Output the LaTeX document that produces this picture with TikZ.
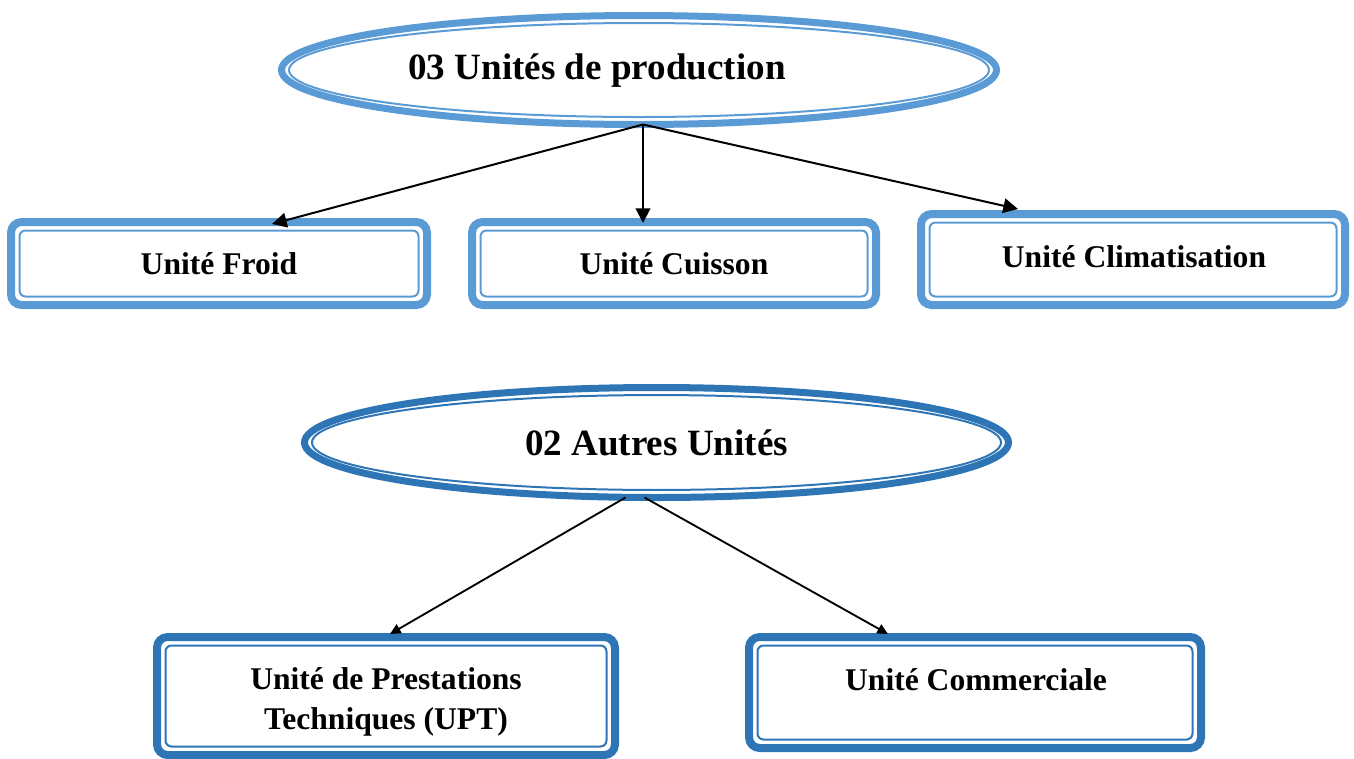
\documentclass[tikz,border=0pt]{standalone}
\usepackage{fontspec}
\setmainfont{Liberation Serif}
\usetikzlibrary{shapes.geometric,arrows.meta}
\definecolor{lightblue}{RGB}{91,155,213}
\definecolor{darkblue}{RGB}{46,117,182}
\begin{document}
\begin{tikzpicture}[x=0.75pt,y=-0.75pt,
  ell/.style={ellipse, line width=5.25pt, inner sep=0pt, outer sep=0pt},
  ubox/.style={rectangle, rounded corners=8pt, line width=6pt, inner sep=0pt, outer sep=0pt, align=center},
  innerline/.style={line width=1.5pt},
  conn/.style={line width=1.5pt, -{Triangle[length=11pt,width=11pt]}},
  connb/.style={line width=1.4pt, -{Triangle[length=8pt,width=7.5pt]}},
  bigtxt/.style={font=\fontsize{27.8}{33}\selectfont\bfseries},
  midtxt/.style={font=\fontsize{23.7}{30}\selectfont\bfseries}
]
\useasboundingbox (0,0) rectangle (1354,758);

% top ellipse
\node[ell, draw=lightblue, minimum width=536.25pt, minimum height=81.75pt] (e1) at (639,70) {};
\draw[innerline, draw=lightblue] (e1.center) ellipse [x radius=262.5pt, y radius=35.25pt];
\node[bigtxt, inner sep=0pt] (e1t) at (597,71) {03 Unités de production};

% top boxes
\node[ubox, draw=lightblue, minimum width=312pt, minimum height=62.25pt, midtxt] (b1) at (219,263.5) {Unité Froid};
\node[ubox, draw=lightblue, minimum width=303pt, minimum height=62.25pt, midtxt] (b2) at (674,263.5) {Unité Cuisson};
\node[ubox, draw=lightblue, minimum width=318pt, minimum height=68.25pt, midtxt] (b3) at (1133,259.5) {};
\node[midtxt, inner sep=0pt] (b3t) at (1134,257) {Unité Climatisation};
\foreach \b in {b1,b2,b3}{
  \draw[innerline, draw=lightblue, rounded corners=4.5pt] ([shift={(8.5,8.5)}]\b.north west) rectangle ([shift={(-8.5,-8.5)}]\b.south east);
}

% bottom ellipse
\node[ell, draw=darkblue, minimum width=528pt, minimum height=82.5pt, bigtxt] (e2) at (656.5,442.5) {02 Autres Unités};
\draw[innerline, draw=darkblue] (e2.center) ellipse [x radius=258.4pt, y radius=35.6pt];

% bottom boxes
\node[ubox, draw=darkblue, minimum width=343.5pt, minimum height=88.5pt] (b4) at (386,696) {};
\node[midtxt, inner sep=0pt, align=center] (b4t) at (386,702) {Unité de Prestations\\Techniques (UPT)};
\node[ubox, draw=darkblue, minimum width=339pt, minimum height=83.25pt] (b5) at (975,692.5) {};
\node[midtxt, inner sep=0pt] (b5t) at (976,680) {Unité Commerciale};
\foreach \b in {b4,b5}{
  \draw[innerline, draw=darkblue, rounded corners=4.5pt] ([shift={(8.5,8.5)}]\b.north west) rectangle ([shift={(-8.5,-8.5)}]\b.south east);
}

% connectors
\draw[conn] ([xshift=3pt]e1.south) -- ([xshift=39.75pt,yshift=-1.5pt]b1.north);
\draw[conn] ([xshift=3pt]e1.south) -- ([xshift=-23.25pt,yshift=-0.75pt]b2.north);
\draw[conn] ([xshift=3pt]e1.south) -- ([xshift=-86.25pt,yshift=3.75pt]b3.north);
\draw[connb] ([xshift=-23.25pt]e2.south) -- ([xshift=3pt,yshift=2.25pt]b4.north);
\draw[connb] ([xshift=-9pt]e2.south) -- ([xshift=-65.25pt,yshift=2.25pt]b5.north);
\end{tikzpicture}
\end{document}
